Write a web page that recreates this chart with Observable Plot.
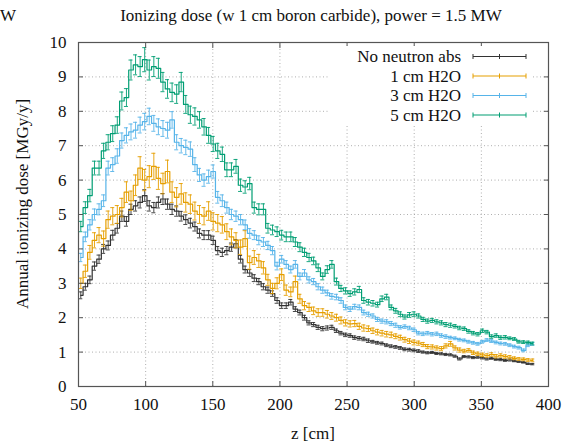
<!DOCTYPE html>
<html>
<head>
<meta charset="utf-8">
<script src="https://cdn.jsdelivr.net/npm/d3@7"></script>
<script src="https://cdn.jsdelivr.net/npm/@observablehq/plot@0.6"></script>
</head>
<body style="margin:0;background:#fff;font-family:'Liberation Serif',serif">
<div id="chart" style="font-family:'Liberation Serif',serif"></div>
<script>
// ---- Data ----
const z = [
  51.7,55.1,58.5,61.9,65.3,68.7,72.1,75.5,78.9,82.3,
  85.7,89.1,92.5,95.9,99.3,102.7,106.1,109.5,112.9,116.3,
  119.7,123.1,126.5,129.9,133.3,136.7,140.1,143.5,146.9,150.3,
  153.7,157.1,160.5,163.9,167.3,170.7,174.1,177.5,180.9,184.3,
  187.7,191.1,194.5,197.9,201.3,204.7,208.1,211.5,214.9,218.3,
  221.7,225.1,228.5,231.9,235.3,238.7,242.1,245.5,248.9,252.3,
  255.7,259.1,262.5,265.9,269.3,272.7,276.1,279.5,282.9,286.3,
  289.7,293.1,296.5,299.9,303.3,306.7,310.1,313.5,316.9,320.3,
  323.7,327.1,330.5,333.9,337.3,340.7,344.1,347.5,350.9,354.3,
  357.7,361.1,364.5,367.9,371.3,374.7,378.1,381.5,384.9,388.3
];

const noAbs = [
  2.65,2.9,3.1,3.5,3.7,4.0,4.1,4.4,4.6,4.95,
  4.8,5.15,5.25,5.35,5.55,5.25,5.2,5.35,5.45,5.3,
  5.15,5.1,4.95,4.85,4.75,4.65,4.45,4.4,4.4,4.25,
  3.95,3.9,3.95,4.05,4.15,3.7,3.4,3.3,3.15,3.05,
  2.9,2.8,2.7,2.5,2.35,2.35,2.45,2.25,2.15,2.0,
  1.85,1.8,1.72,1.68,1.7,1.72,1.62,1.55,1.5,1.48,
  1.42,1.4,1.38,1.33,1.3,1.27,1.25,1.2,1.17,1.15,
  1.12,1.08,1.07,1.05,1.03,1.0,0.98,0.99,0.96,0.95,
  0.93,0.92,0.88,0.8,0.87,0.86,0.84,0.85,0.83,0.8,
  0.82,0.79,0.78,0.76,0.77,0.74,0.72,0.7,0.66,0.65
];
const noAbsErr = [
  0.10,0.10,0.11,0.12,0.12,0.13,0.13,0.14,0.14,0.15,
  0.14,0.15,0.15,0.16,0.17,0.15,0.15,0.16,0.16,0.15,
  0.15,0.15,0.14,0.14,0.14,0.13,0.13,0.13,0.13,0.12,
  0.12,0.12,0.12,0.12,0.12,0.11,0.10,0.10,0.10,0.09,
  0.09,0.09,0.08,0.08,0.08,0.08,0.08,0.07,0.07,0.07,
  0.06,0.06,0.06,0.06,0.06,0.06,0.05,0.05,0.05,0.05,
  0.05,0.05,0.05,0.05,0.04,0.04,0.04,0.04,0.04,0.04,
  0.04,0.04,0.04,0.04,0.04,0.03,0.03,0.03,0.03,0.03,
  0.03,0.03,0.03,0.03,0.03,0.03,0.03,0.03,0.03,0.03,
  0.03,0.03,0.03,0.03,0.03,0.02,0.02,0.02,0.02,0.02
];

const h2o1 = [
  3.0,3.35,3.9,4.25,4.4,4.3,4.85,4.95,5.0,5.2,
  5.65,5.4,5.85,6.35,6.0,6.1,6.4,6.05,5.9,6.25,
  5.65,5.5,5.6,5.35,5.3,5.1,5.0,4.95,5.1,4.8,
  4.75,4.7,4.5,4.35,4.25,4.05,4.3,3.6,3.75,3.65,
  3.45,3.1,2.85,3.0,3.25,2.8,2.75,3.05,2.55,2.35,
  2.3,2.2,2.15,2.15,2.1,2.05,2.0,1.92,1.85,1.82,
  1.83,1.75,1.7,1.68,1.62,1.58,1.55,1.52,1.5,1.46,
  1.42,1.36,1.32,1.28,1.26,1.22,1.16,1.15,1.12,1.1,
  1.18,1.24,1.12,1.06,1.03,1.05,0.98,0.95,0.92,0.9,
  0.93,0.88,0.9,0.87,0.85,0.82,0.8,0.79,0.77,0.76
];
const h2o1Err = [
  0.15,0.18,0.20,0.22,0.22,0.22,0.25,0.25,0.26,0.27,
  0.30,0.28,0.30,0.33,0.31,0.32,0.38,0.32,0.30,0.33,
  0.30,0.28,0.30,0.28,0.27,0.26,0.26,0.25,0.27,0.25,
  0.25,0.24,0.23,0.23,0.22,0.21,0.23,0.19,0.20,0.19,
  0.18,0.16,0.15,0.16,0.17,0.15,0.14,0.16,0.13,0.12,
  0.12,0.11,0.11,0.11,0.11,0.10,0.10,0.10,0.09,0.09,
  0.09,0.09,0.09,0.08,0.08,0.08,0.08,0.08,0.08,0.07,
  0.07,0.07,0.07,0.07,0.06,0.06,0.06,0.06,0.06,0.06,
  0.06,0.07,0.06,0.06,0.05,0.05,0.05,0.05,0.05,0.05,
  0.05,0.05,0.05,0.05,0.05,0.04,0.04,0.04,0.04,0.04
];

const h2o3 = [
  3.75,4.35,4.7,5.0,5.15,5.4,6.35,6.45,6.7,7.15,
  7.3,7.4,7.45,7.6,7.7,7.85,7.65,7.55,7.5,7.45,
  7.75,7.1,7.0,6.95,6.9,6.45,6.15,6.0,6.1,6.25,
  5.5,5.4,5.2,5.0,4.95,4.85,4.7,4.45,4.4,4.25,
  4.2,4.1,3.95,3.5,3.7,3.55,3.4,3.55,3.2,3.3,
  3.1,3.05,2.9,2.8,2.72,2.62,2.6,2.5,2.3,2.25,
  2.32,2.3,2.15,2.1,2.05,1.95,1.9,1.88,1.83,1.78,
  1.72,1.74,1.7,1.65,1.55,1.53,1.55,1.52,1.53,1.48,
  1.45,1.42,1.4,1.36,1.34,1.3,1.27,1.24,1.3,1.35,
  1.32,1.28,1.25,1.24,1.2,1.16,1.13,1.05,1.2,1.24
];
const h2o3Err = [
  0.12,0.14,0.15,0.16,0.16,0.17,0.20,0.20,0.21,0.22,
  0.22,0.23,0.23,0.23,0.24,0.24,0.23,0.23,0.23,0.23,
  0.24,0.22,0.21,0.21,0.21,0.20,0.19,0.18,0.19,0.19,
  0.17,0.17,0.16,0.15,0.15,0.15,0.14,0.14,0.13,0.13,
  0.13,0.12,0.12,0.11,0.11,0.11,0.10,0.11,0.10,0.10,
  0.09,0.09,0.09,0.09,0.08,0.08,0.08,0.08,0.07,0.07,
  0.07,0.07,0.07,0.06,0.06,0.06,0.06,0.06,0.06,0.06,
  0.05,0.05,0.05,0.05,0.05,0.05,0.05,0.05,0.05,0.05,
  0.05,0.04,0.04,0.04,0.04,0.04,0.04,0.04,0.04,0.04,
  0.04,0.04,0.04,0.04,0.04,0.04,0.04,0.04,0.04,0.04
];

const h2o5 = [
  4.65,5.2,5.55,6.35,6.35,6.85,7.1,7.35,7.6,8.3,
  8.4,9.2,9.35,9.3,9.5,9.2,9.3,9.25,8.85,8.65,
  8.55,8.5,8.85,8.2,7.9,7.85,7.75,7.55,7.3,7.05,
  6.85,6.75,6.3,6.3,6.4,5.85,5.8,5.9,5.2,5.15,
  5.15,4.6,4.55,4.5,4.4,4.35,4.35,4.2,4.05,3.9,
  3.75,3.65,3.45,3.2,3.4,3.55,3.05,2.85,2.78,2.7,
  2.75,2.82,2.5,2.45,2.42,2.38,2.55,2.6,2.3,2.2,
  2.1,2.02,2.08,2.1,2.05,1.95,1.9,1.92,1.88,1.85,
  1.8,1.78,1.75,1.7,1.68,1.6,1.55,1.52,1.62,1.58,
  1.45,1.48,1.42,1.43,1.4,1.38,1.3,1.29,1.28,1.25
];
const h2o5Err = [
  0.15,0.17,0.18,0.20,0.20,0.22,0.22,0.23,0.24,0.26,
  0.26,0.29,0.29,0.29,0.35,0.29,0.29,0.29,0.28,0.27,
  0.27,0.27,0.28,0.26,0.25,0.25,0.24,0.24,0.23,0.22,
  0.22,0.21,0.20,0.20,0.20,0.18,0.18,0.18,0.16,0.16,
  0.16,0.14,0.14,0.14,0.14,0.14,0.14,0.13,0.13,0.12,
  0.12,0.11,0.11,0.10,0.11,0.11,0.10,0.09,0.09,0.08,
  0.09,0.09,0.08,0.08,0.08,0.07,0.08,0.08,0.07,0.07,
  0.07,0.06,0.07,0.07,0.06,0.06,0.06,0.06,0.06,0.06,
  0.06,0.06,0.05,0.05,0.05,0.05,0.05,0.05,0.05,0.05,
  0.05,0.05,0.05,0.05,0.04,0.04,0.04,0.04,0.04,0.04
];

const seriesNames = ["No neutron abs", "1 cm H2O", "3 cm H2O", "5 cm H2O"];
const seriesColors = ["#333333", "#E69F00", "#56B4E9", "#009E73"];
const seriesValues = [noAbs, h2o1, h2o3, h2o5];
const seriesErrors = [noAbsErr, h2o1Err, h2o3Err, h2o5Err];
const xTicks = [50, 100, 150, 200, 250, 300, 350, 400];
const yTicks = [0, 1, 2, 3, 4, 5, 6, 7, 8, 9, 10];

const titleText = "Ionizing dose (w 1 cm boron carbide), power = 1.5 MW";
const xLabel = "z [cm]";
const yLabel = "Annual ionizing dose [MGy/y]";

// ---- Build tables ----
const tables = seriesValues.map((vals, s) =>
  vals.map((v, i) => ({ z: z[i], v, e: seriesErrors[s][i], s }))
);

const FONT = "Liberation Serif";
const capHalf = 1.5; // half-width of error-bar caps (in cm)
const seriesMarks = tables.flatMap((rows, s) => [
  Plot.ruleX(rows, { x: "z", y1: d => d.v - d.e, y2: d => d.v + d.e, stroke: seriesColors[s], strokeWidth: 1, strokeOpacity: 0.9 }),
  Plot.ruleY(rows, { y: d => d.v - d.e, x1: d => d.z - capHalf, x2: d => d.z + capHalf, stroke: seriesColors[s], strokeWidth: 1, strokeOpacity: 0.9 }),
  Plot.ruleY(rows, { y: d => d.v + d.e, x1: d => d.z - capHalf, x2: d => d.z + capHalf, stroke: seriesColors[s], strokeWidth: 1, strokeOpacity: 0.9 }),
  Plot.line(rows, { x: "z", y: "v", curve: "step", stroke: seriesColors[s], strokeWidth: 1.2 })
]);

const gridStyle = { stroke: "#9a9a9a", strokeOpacity: 1, strokeWidth: 0.8, strokeDasharray: "1,2.5" };

const chart = Plot.plot({
  width: 571,
  height: 444,
  marginLeft: 78,
  marginRight: 23,
  marginTop: 42,
  marginBottom: 58,
  style: "font-family: Liberation Serif; font-size: 17px; background: #fff; color: #111;",
  x: { domain: [50, 400] },
  y: { domain: [0, 10] },
  marks: [
    Plot.gridX(xTicks, gridStyle),
    Plot.gridY(yTicks, gridStyle),
    ...seriesMarks,
    Plot.frame({ stroke: "#555", strokeWidth: 1.2 }),
    Plot.axisX(xTicks, { anchor: "bottom", tickSize: 0, tickPadding: 11, label: null }),
    Plot.axisX(xTicks, { anchor: "bottom", tickSize: -5, tickFormat: () => "", label: null, stroke: "#555" }),
    Plot.axisX(xTicks, { anchor: "top", tickSize: -5, tickFormat: () => "", label: null, stroke: "#555" }),
    Plot.axisY(yTicks, { anchor: "left", tickSize: 0, tickPadding: 12, label: null }),
    Plot.axisY(yTicks, { anchor: "left", tickSize: -5, tickFormat: () => "", label: null, stroke: "#555" }),
    Plot.axisY(yTicks, { anchor: "right", tickSize: -5, tickFormat: () => "", label: null, stroke: "#555" })
  ]
});

document.getElementById("chart").appendChild(chart);

// ---- Annotations: title, axis labels, legend ----
const svg = d3.select(chart);
svg.attr("font-family", FONT);

function addText(x, y, str, anchor) {
  return svg.append("text")
    .attr("x", x).attr("y", y)
    .attr("text-anchor", anchor || "start")
    .attr("font-family", FONT).attr("font-size", 17)
    .attr("fill", "#111")
    .text(str);
}

addText(311, 21, titleText, "middle");
addText(0, 21, "W");
addText(313, 439, xLabel, "middle");
addText(0, 0, yLabel, "middle").attr("transform", "translate(28,204) rotate(-90)");

// legend
const legend = svg.append("g");
legend.append("rect")
  .attr("x", 330).attr("y", 46).attr("width", 202).attr("height", 78)
  .attr("fill", "#fff");
const rowY = [56.5, 76, 95.5, 115];
seriesNames.forEach((name, i) => {
  const y = rowY[i];
  legend.append("text")
    .attr("x", 461).attr("y", y).attr("dy", "0.33em")
    .attr("text-anchor", "end")
    .attr("font-family", FONT).attr("font-size", 17)
    .attr("fill", "#111")
    .text(name);
  legend.append("line")
    .attr("x1", 473).attr("x2", 526).attr("y1", y).attr("y2", y)
    .attr("stroke", seriesColors[i]).attr("stroke-width", 1.1);
  [473, 499.5, 526].forEach(x => {
    legend.append("line")
      .attr("x1", x).attr("x2", x).attr("y1", y - 2.5).attr("y2", y + 2.5)
      .attr("stroke", seriesColors[i]).attr("stroke-width", 1);
  });
});

// force the serif face on every text node
svg.selectAll("text").each(function () {
  this.style.setProperty("font-family", "'Liberation Serif', serif", "important");
});
</script>
</body>
</html>
